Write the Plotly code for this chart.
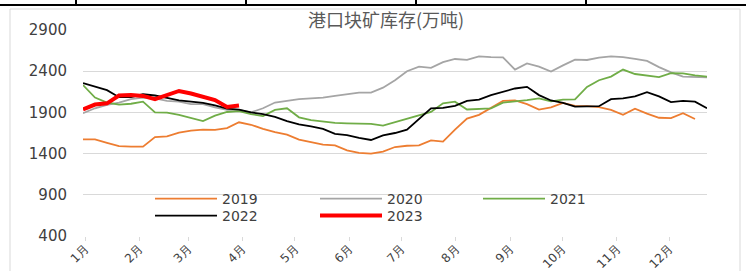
import plotly.graph_objects as go

# ---------------- data ----------------
weeks_2019 = list(range(52))
weeks_full = list(range(53))
weeks_2023 = list(range(14))

v2019 = [1573, 1573, 1530, 1490, 1484, 1484, 1600, 1610, 1655, 1680, 1690, 1688, 1710, 1780,
         1750, 1700, 1660, 1630, 1570, 1540, 1510, 1500, 1440, 1410, 1400, 1425, 1480, 1495,
         1500, 1560, 1545, 1690, 1825, 1870, 1960, 2040, 2045, 2000, 1935, 1960, 2015, 1980,
         1975, 1965, 1930, 1870, 1945, 1885, 1835, 1830, 1890, 1820]
v2020 = [1890, 1950, 1990, 2020, 2060, 2080, 2070, 2040, 2030, 2000, 2000, 1960, 1930, 1930,
         1900, 1950, 2020, 2040, 2060, 2070, 2080, 2100, 2120, 2140, 2140, 2200, 2290, 2400,
         2455, 2440, 2510, 2548, 2538, 2580, 2570, 2568, 2420, 2495, 2455, 2395, 2470, 2540,
         2536, 2565, 2580, 2570, 2550, 2525, 2450, 2385, 2334, 2330, 2325]
v2021 = [2232, 2080, 2020, 1995, 2005, 2030, 1900, 1897, 1870, 1835, 1795, 1860, 1905, 1915,
         1880, 1856, 1930, 1950, 1840, 1805, 1790, 1772, 1767, 1767, 1760, 1740, 1780, 1825,
         1860, 1905, 2010, 2030, 1935, 1945, 1950, 2018, 2030, 2050, 2071, 2035, 2055, 2059,
         2210, 2290, 2335, 2420, 2366, 2345, 2328, 2375, 2374, 2350, 2334]
v2022 = [2255, 2215, 2170, 2085, 2085, 2120, 2105, 2075, 2045, 2030, 2015, 1985, 1945, 1935,
         1900, 1880, 1845, 1795, 1755, 1730, 1700, 1640, 1625, 1590, 1565, 1620, 1650, 1690,
         1820, 1949, 1955, 1980, 2040, 2055, 2110, 2150, 2190, 2210, 2110, 2045, 2015, 1969,
         1969, 1975, 2060, 2071, 2095, 2145, 2095, 2025, 2040, 2030, 1950]
v2023 = [1937, 1995, 2010, 2105, 2111, 2100, 2060, 2115, 2160, 2130, 2095, 2050, 1965, 1985]

month_labels = ["1月", "2月", "3月", "4月", "5月", "6月", "7月", "8月", "9月", "10月", "11月", "12月"]
month_start_days = [0, 31, 59, 90, 120, 151, 181, 212, 243, 273, 304, 334]

title_text = "港口块矿库存(万吨)"

# ---------------- layout helpers ----------------
W, H = 746, 271
PL, PR, PT, PB = 83, 707, 30, 236  # plot area in pixels


def px_x(px):
    return (px - PL) / (PR - PL)


def px_y(py):
    return (PB - py) / (PB - PT)


tickvals = [0.17 + d * 0.1458 for d in month_start_days]

FONT = "DejaVu Sans"
TXT = "#404040"

fig = go.Figure()

# name, x, y, colour, width, legend id, legend pixel position (x, y)
series = [
    ("2019", weeks_2019, v2019, "#ED7D31", 1.8, "legend", (150, 199)),
    ("2020", weeks_full, v2020, "#A5A5A5", 1.8, "legend2", (315, 199)),
    ("2021", weeks_full, v2021, "#70AD47", 1.8, "legend3", (478, 199)),
    ("2022", weeks_full, v2022, "#000000", 1.8, "legend4", (150, 216)),
    ("2023", weeks_2023, v2023, "#FF0000", 4, "legend5", (315, 216)),
]

legend_layout = {}
for name, xs, ys, color, w, lg, (lx, ly) in series:
    fig.add_trace(go.Scatter(x=xs, y=ys, mode="lines", name=name,
                             line=dict(color=color, width=w), legend=lg))
    legend_layout[lg] = dict(orientation="h", bgcolor="rgba(0,0,0,0)", itemwidth=62,
                             font=dict(family=FONT, size=14, color=TXT),
                             x=px_x(lx), y=px_y(ly), xanchor="left", yanchor="middle",
                             itemclick=False, itemdoubleclick=False)

fig.update_layout(
    width=W, height=H,
    margin=dict(l=PL, r=W - PR, t=PT, b=H - PB, autoexpand=False),
    paper_bgcolor="white", plot_bgcolor="white",
    showlegend=True,
    title=dict(text=title_text, x=px_x(386), xref="paper", xanchor="center",
               y=1 - 21 / H, yanchor="middle", automargin=False,
               font=dict(family="Noto Sans CJK SC", size=18, color="#595959")),
    xaxis=dict(range=[0, 52], tickmode="array", tickvals=tickvals, ticktext=month_labels,
               tickangle=-45, showgrid=False, zeroline=False, showline=False,
               ticks="outside", ticklen=4, tickcolor="#D9D9D9", automargin=False,
               ticklabelstandoff=-4,
               tickfont=dict(family=FONT, size=12, color=TXT)),
    yaxis=dict(range=[400, 2900], dtick=500, tick0=400, showgrid=True,
               gridcolor="#D9D9D9", gridwidth=1, zeroline=False, showline=False,
               ticks="", ticklabelstandoff=15, automargin=False,
               tickfont=dict(family=FONT, size=15, color=TXT)),
    **legend_layout,
)

# outer chart frame and table lines at the top
shapes = [
    dict(type="rect", xref="paper", yref="paper", x0=px_x(10), x1=px_x(740),
         y0=px_y(275), y1=px_y(9), line=dict(color="#D9D9D9", width=1), layer="below"),
    dict(type="line", xref="paper", yref="paper", x0=px_x(0), x1=px_x(746),
         y0=px_y(5), y1=px_y(5), line=dict(color="#000000", width=2)),
]
for vx in [76, 246, 416, 586]:
    shapes.append(dict(type="line", xref="paper", yref="paper", x0=px_x(vx), x1=px_x(vx),
                       y0=px_y(0), y1=px_y(5), line=dict(color="#000000", width=2)))
fig.update_layout(shapes=shapes)

# remove the default page margin so the figure sits at the window's top-left corner
fig.write_html("out.html", config={"displayModeBar": False},
               post_script="document.body.style.margin='0';")
